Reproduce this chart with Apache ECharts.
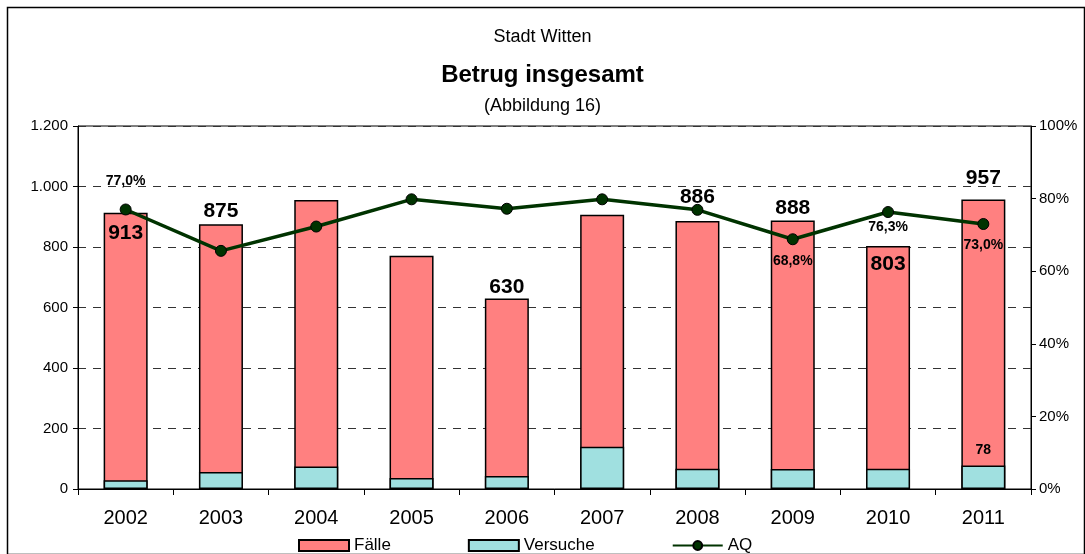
<!DOCTYPE html>
<html>
<head>
<meta charset="utf-8">
<script src="https://cdn.jsdelivr.net/npm/echarts@6/dist/echarts.min.js"></script>
<style>
html,body{margin:0;padding:0;background:#fff;}
#chart{width:1085px;height:554px;}
</style>
</head>
<body>
<div id="chart"></div>
<script>
// ---- data ----
var years = ['2002','2003','2004','2005','2006','2007','2008','2009','2010','2011'];
var faelle = [913, 875, 955, 771, 630, 907, 886, 888, 803, 957];
var versuche = [29, 56, 74, 36, 43, 140, 67, 66, 67, 78];
var aq = [77.0, 65.6, 72.3, 79.8, 77.2, 79.8, 76.9, 68.8, 76.3, 73.0];
var leftTicks = [0, 200, 400, 600, 800, 1000, 1200];
var rightTicks = [0, 20, 40, 60, 80, 100];

// ---- which labels are shown (and where) ----
var faelleLabels = [
  {position:'insideTop', distance:10}, {position:'top', distance:3}, null, null,
  {position:'top', distance:1}, null, {position:'top', distance:13}, {position:'top', distance:2},
  {position:'insideTop', distance:8}, {position:'top', distance:11}
];
var versucheLabels = [null,null,null,null,null,null,null,null,null,{position:'top', distance:8}];
var aqLabels = [
  {position:'top', distance:15}, null, null, null, null, null, null,
  {position:'bottom', distance:9}, {position:'bottom', distance:2}, {position:'bottom', distance:8}
];

function fmtThousands(v){
  return String(v).replace(/\B(?=(\d{3})+(?!\d))/g, '.');
}

var chart = echarts.init(document.getElementById('chart'), null, {renderer:'canvas'});

var fontFam = '"Liberation Sans", Arial, sans-serif';

var faelleData = faelle.map(function(v,i){
  var l = faelleLabels[i];
  return {value:v, label: l ? {show:true, position:l.position, distance:l.distance} : {show:false}};
});
var versucheData = versuche.map(function(v,i){
  var l = versucheLabels[i];
  return {value:v, label: l ? {show:true, position:l.position, distance:l.distance} : {show:false}};
});
var aqData = aq.map(function(v,i){
  var l = aqLabels[i];
  return {value:v, label: l ? {show:true, position:l.position, distance:l.distance} : {show:false}};
});

var option = {
  animation:false,
  backgroundColor:'#fff',
  textStyle:{fontFamily:fontFam, color:'#000'},
  title:[
    {text:'Stadt Witten', left:'center', top:23, textStyle:{fontSize:18, fontWeight:'normal', color:'#000', fontFamily:fontFam}},
    {text:'Betrug insgesamt', left:'center', top:58, textStyle:{fontSize:24, fontWeight:'bold', color:'#000', fontFamily:fontFam}},
    {text:'(Abbildung 16)', left:'center', top:92, textStyle:{fontSize:18, fontWeight:'normal', color:'#000', fontFamily:fontFam}}
  ],
  graphic:[
    {type:'rect', left:5, top:5, shape:{x:0,y:0,width:1077,height:547}, style:{fill:'none', stroke:'#000', lineWidth:1.5}, silent:true}
  ],
  legend:{
    left:293, top:532, itemWidth:50, itemHeight:11, itemGap:77,
    textStyle:{fontSize:17, color:'#000', fontFamily:fontFam},
    data:[{name:'Fälle', icon:'rect'},{name:'Versuche', icon:'rect'},{name:'AQ'}]
  },
  grid:{left:78, right:54, top:126, bottom:65, show:true, borderColor:'#000', borderWidth:1, backgroundColor:'transparent'},
  xAxis:{
    type:'category', data:years, boundaryGap:true,
    axisLine:{show:true, lineStyle:{color:'#000', width:1}},
    axisTick:{show:true, alignWithLabel:false, length:6, lineStyle:{color:'#000'}},
    axisLabel:{fontSize:20, color:'#000', margin:19, fontFamily:fontFam},
    splitLine:{show:false}
  },
  yAxis:[
    {
      type:'value', min:leftTicks[0], max:leftTicks[leftTicks.length-1], interval:leftTicks[1]-leftTicks[0],
      axisLine:{show:true, lineStyle:{color:'#000'}},
      axisTick:{show:true, length:5, lineStyle:{color:'#000'}},
      axisLabel:{fontSize:15, color:'#000', margin:10, fontFamily:fontFam, formatter:function(v){return fmtThousands(v);}},
      splitLine:{show:true, lineStyle:{color:'#333', type:[8,7], width:1}}
    },
    {
      type:'value', min:rightTicks[0], max:rightTicks[rightTicks.length-1], interval:rightTicks[1]-rightTicks[0],
      position:'right',
      axisLine:{show:true, lineStyle:{color:'#000'}},
      axisTick:{show:true, length:5, lineStyle:{color:'#000'}},
      axisLabel:{fontSize:15, color:'#000', margin:8, fontFamily:fontFam, formatter:'{value}%'},
      splitLine:{show:false}
    }
  ],
  series:[
    {
      name:'Fälle', type:'bar', data:faelleData, barWidth:44, barGap:'-100%', z:2,
      itemStyle:{color:'#FF8080', borderColor:'#000', borderWidth:1.5},
      label:{fontSize:21, fontWeight:'bold', color:'#000', fontFamily:fontFam}
    },
    {
      name:'Versuche', type:'bar', data:versucheData, barWidth:44, barGap:'-100%', z:3,
      itemStyle:{color:'#A0E0E0', borderColor:'#000', borderWidth:1.5},
      label:{fontSize:14, fontWeight:'bold', color:'#000', fontFamily:fontFam}
    },
    {
      name:'AQ', type:'line', yAxisIndex:1, data:aqData, z:5,
      symbol:'circle', symbolSize:11,
      lineStyle:{color:'#003300', width:3.5},
      itemStyle:{color:'#003300', borderColor:'#000', borderWidth:1},
      label:{fontSize:14, fontWeight:'bold', color:'#000', fontFamily:fontFam,
        formatter:function(p){return p.value.toFixed(1).replace('.', ',') + '%';}}
    }
  ]
};
chart.setOption(option);
</script>
</body>
</html>
